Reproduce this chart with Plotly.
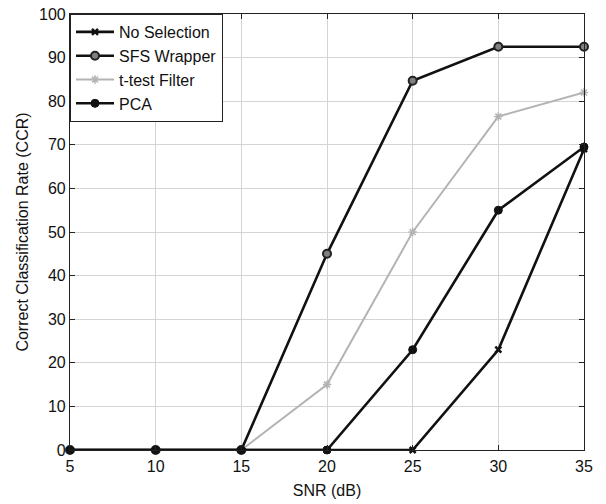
import plotly.graph_objects as go

snr = [5, 10, 15, 20, 25, 30, 35]
no_selection = [0, 0, 0, 0, 0, 23, 69]
sfs_wrapper = [0, 0, 0, 45, 84.7, 92.5, 92.5]
ttest_filter = [0, 0, 0, 15, 50, 76.5, 82]
pca = [0, 0, 0, 0, 23, 55, 69.5]

series = [
    ("No Selection", no_selection, "#111111", 2.6,
     dict(symbol="x-thin-open", size=6, line=dict(width=2.5, color="#111111"))),
    ("SFS Wrapper", sfs_wrapper, "#111111", 2.6,
     dict(symbol="circle", size=8, color="#808080", line=dict(width=2, color="#222222"))),
    ("t-test Filter", ttest_filter, "#b4b4b4", 2.0,
     dict(symbol="asterisk-open", size=7, line=dict(width=1.5, color="#b4b4b4"))),
    ("PCA", pca, "#111111", 2.6,
     dict(symbol="circle", size=8, color="#111111", line=dict(width=1, color="#111111"))),
]

fig = go.Figure()
for name, vals, col, lw, mk in series:
    fig.add_trace(go.Scatter(
        x=snr, y=vals, name=name, mode="lines+markers",
        line=dict(color=col, width=lw), marker=mk, cliponaxis=False,
    ))

axis_common = dict(
    showgrid=True, gridcolor="#d4d4d4", gridwidth=1,
    showline=True, linecolor="#222222", linewidth=1.2, mirror="ticks",
    ticks="inside", ticklen=5, tickcolor="#222222",
    tickfont=dict(family="Liberation Sans, Arial", size=16, color="#111111"),
    zeroline=False, automargin=False,
)

fig.update_layout(
    width=606, height=504,
    margin=dict(l=70, r=22, t=14, b=54),
    paper_bgcolor="white", plot_bgcolor="white",
    font=dict(family="Liberation Sans, Arial", size=16, color="#111111"),
    xaxis=dict(range=[5, 35], tickvals=[5, 10, 15, 20, 25, 30, 35], ticklabelstandoff=2,
               title=dict(text="SNR (dB)", standoff=10, font=dict(size=16)), **axis_common),
    yaxis=dict(range=[0, 100], tickvals=list(range(0, 101, 10)),
               title=dict(text="Correct Classification Rate (CCR)", standoff=6, font=dict(size=16)), **axis_common),
    legend=dict(x=0, y=1, xanchor="left", yanchor="top",
                bgcolor="white", bordercolor="#222222", borderwidth=1,
                font=dict(size=16, color="#111111"), tracegroupgap=0, itemwidth=38),
    showlegend=True,
)

fig.write_html("out.html")
